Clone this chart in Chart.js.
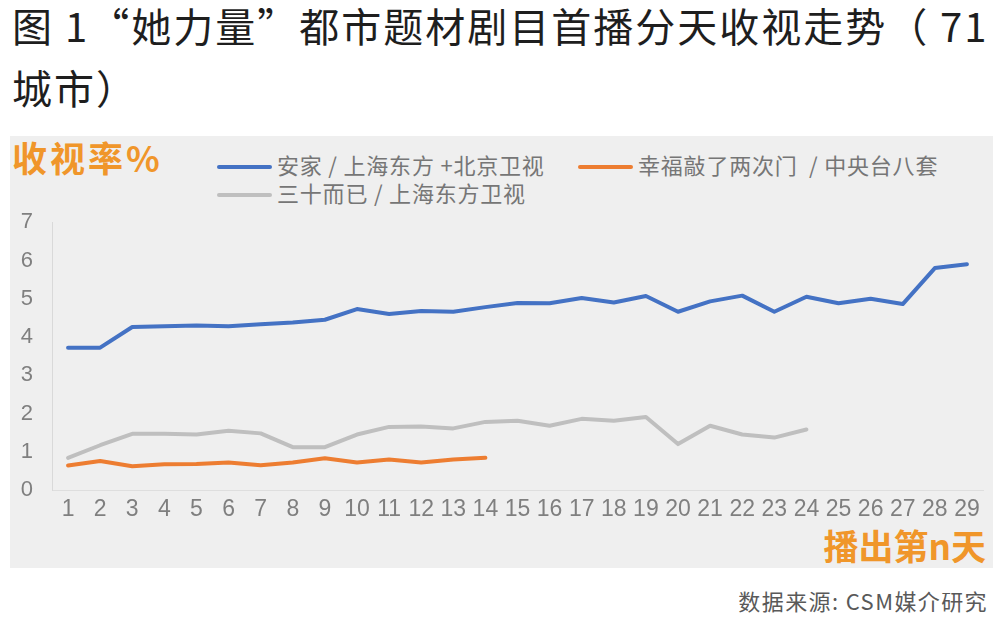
<!DOCTYPE html>
<html>
<head>
<meta charset="utf-8">
<script src="https://cdn.jsdelivr.net/npm/chart.js@4/dist/chart.umd.min.js"></script>
<style>
  body { margin: 0; width: 1000px; height: 618px; background: #fff; position: relative; overflow: hidden;
         font-family: "Liberation Sans", "Noto Sans CJK SC", sans-serif; }
  .title { position: absolute; left: 12px; font-size: 40px; letter-spacing: 2px; color: #1e1e1e; white-space: nowrap; line-height: 1;
           font-family: "Noto Sans CJK SC", sans-serif; }
  .panel { position: absolute; left: 10px; top: 136px; width: 983px; height: 432px; background: #efefef; }
  .orange { position: absolute; color: #f0962a; font-weight: bold; font-family: "Noto Sans CJK SC", sans-serif; line-height: 1; }
  .leg { position: absolute; font-size: 22px; letter-spacing: 0.8px; color: #767676; white-space: nowrap; line-height: 1;
         font-family: "Noto Sans CJK SC", sans-serif; }
  .leg i { display: inline-block; width: 55px; height: 4px; border-radius: 2px; vertical-align: middle; margin-right: 5px; position: relative; top: -1px; }
  .src { position: absolute; right: 12px; top: 589px; font-size: 22px; letter-spacing: 1.4px; color: #595959; line-height: 1;
         font-family: "Noto Sans CJK SC", sans-serif; }
  #wrap { position: absolute; left: 0; top: 190px; width: 1000px; height: 340px; }
</style>
</head>
<body>
<div class="title" style="top:5px">图 1“她力量”都市题材剧目首播分天收视走势（ 71</div>
<div class="title" style="top:67px">城市）</div>
<div class="panel"></div>
<div class="orange" style="left:12px; top:139px; font-size:35px; letter-spacing:3px">收视率%</div>
<div class="leg" style="left:217px; top:153px"><i style="background:#4472c4"></i>安家 / 上海东方 +北京卫视</div>
<div class="leg" style="left:578px; top:153px"><i style="background:#ed7d31"></i>幸福敲了两次门&nbsp; / 中央台八套</div>
<div class="leg" style="left:217px; top:181px"><i style="background:#bfbfbf"></i>三十而已 / 上海东方卫视</div>
<div class="orange" style="right:14px; top:527px; font-size:35px">播出第n天</div>
<div class="src">数据来源: CSM媒介研究</div>
<div id="wrap"><canvas id="c"></canvas></div>
<script>
const days = ["1","2","3","4","5","6","7","8","9","10","11","12","13","14","15","16","17","18","19","20","21","22","23","24","25","26","27","28","29"];
const anjia = [3.72, 3.72, 4.26, 4.28, 4.3, 4.28, 4.33, 4.38, 4.45, 4.73, 4.6, 4.68, 4.66, 4.78, 4.89, 4.88, 5.02, 4.9, 5.07, 4.66, 4.93, 5.08, 4.66, 5.05, 4.88, 5.0, 4.86, 5.8, 5.9];
const xingfu = [0.64, 0.76, 0.62, 0.67, 0.68, 0.72, 0.65, 0.72, 0.83, 0.72, 0.8, 0.72, 0.8, 0.84];
const sanshi = [0.84, 1.17, 1.47, 1.47, 1.45, 1.55, 1.48, 1.12, 1.12, 1.45, 1.65, 1.66, 1.61, 1.78, 1.81, 1.68, 1.86, 1.81, 1.91, 1.2, 1.68, 1.45, 1.37, 1.58];
const yTicks = [0, 1, 2, 3, 4, 5, 6, 7];

new Chart(document.getElementById("c"), {
  type: "line",
  data: {
    labels: days,
    datasets: [
      { label: "安家 / 上海东方 +北京卫视", data: anjia, borderColor: "#4472c4" },
      { label: "幸福敲了两次门 / 中央台八套", data: xingfu, borderColor: "#ed7d31" },
      { label: "三十而已 / 上海东方卫视", data: sanshi, borderColor: "#bfbfbf" },
    ],
  },
  options: {
    responsive: true,
    maintainAspectRatio: false,
    animation: false,
    layout: { padding: { top: 25, right: 17, left: 0, bottom: 0 } },
    elements: {
      line: { borderWidth: 4, tension: 0, borderCapStyle: "round", borderJoinStyle: "round" },
      point: { radius: 0 },
    },
    plugins: { legend: { display: false }, tooltip: { enabled: false } },
    scales: {
      x: {
        offset: true,
        grid: { display: false, drawTicks: false },
        border: { display: true, color: "#dedede", width: 1 },
        ticks: {
          color: "#7f7f7f",
          font: { family: "Liberation Sans", size: 23 },
          padding: 6,
          maxRotation: 0,
          autoSkip: false,
        },
        afterFit: (s) => { s.height = 40; },
      },
      y: {
        min: 0,
        max: 7,
        afterBuildTicks: (s) => { s.ticks = yTicks.map((v) => ({ value: v })); },
        grid: { display: false, drawTicks: false },
        border: { display: true, color: "#d9d9d9", width: 1 },
        ticks: {
          color: "#7f7f7f",
          font: { family: "Liberation Sans", size: 22 },
          padding: 19,
        },
        afterFit: (s) => { s.width = 52; },
      },
    },
  },
});
</script>
</body>
</html>
